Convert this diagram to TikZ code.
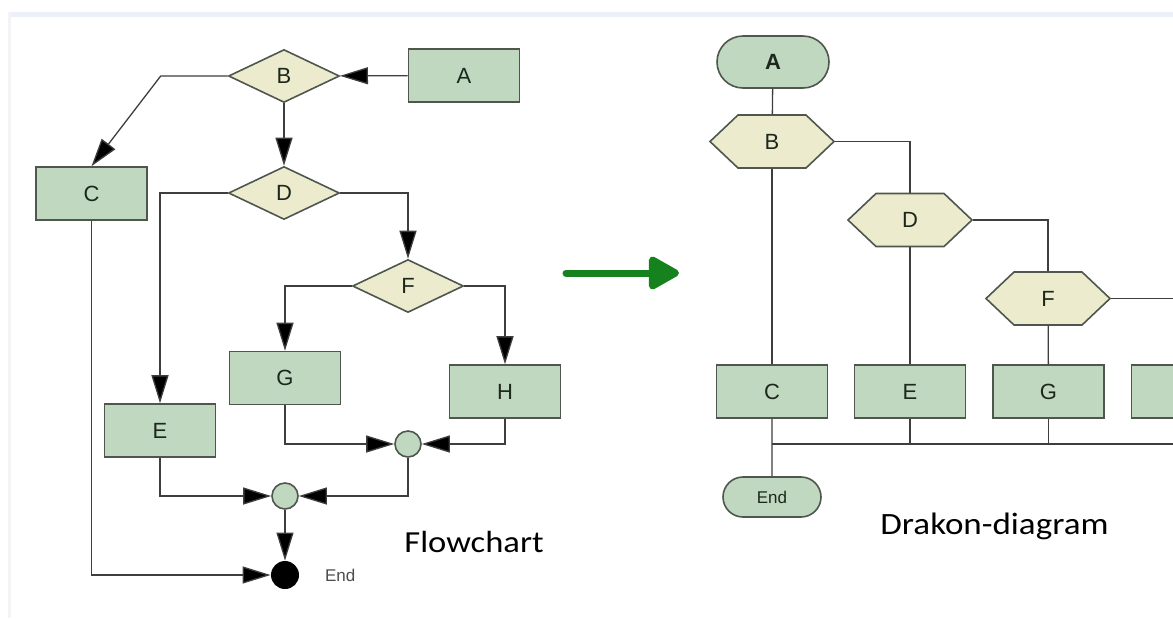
\documentclass[tikz,border=0pt]{standalone}
\usepackage{fontspec}
\setmainfont{Liberation Sans}
\newfontfamily\titlefont[FakeStretch=1.13]{Carlito}
\usetikzlibrary{arrows.meta,positioning,shapes.geometric,shapes.misc}
\definecolor{BoxGreen}{RGB}{192,216,192}
\definecolor{CondBeige}{RGB}{236,235,205}
\definecolor{LineGrey}{RGB}{62,62,62}
\definecolor{EdgeGrey}{RGB}{78,86,78}
\definecolor{TextDark}{RGB}{28,40,28}
\definecolor{ArrowGreen}{RGB}{22,130,30}
\definecolor{FrameBlue}{RGB}{236,241,249}

\tikzset{
  shape box/.style={draw=EdgeGrey,line width=0.8pt,inner sep=0pt,text=TextDark,
    font=\fontsize{11}{12}\selectfont},
  action/.style={shape box,rectangle,fill=BoxGreen,minimum width=55.5pt,minimum height=26.5pt},
  cond/.style={shape box,diamond,fill=CondBeige,minimum width=55.5pt,minimum height=26.5pt},
  hexcond/.style={shape box,draw=none,rectangle,minimum width=62pt,minimum height=26.5pt},
  hexline/.style={draw=EdgeGrey,fill=CondBeige,line width=0.8pt,line join=miter},
  term/.style={shape box,rounded rectangle,fill=BoxGreen,minimum width=56pt,minimum height=26pt},
  joint/.style={circle,draw=EdgeGrey,fill=BoxGreen,line width=0.8pt,minimum size=13pt,inner sep=0pt},
  stopdot/.style={circle,fill=black,minimum size=14pt,inner sep=0pt},
  wire/.style={draw=LineGrey,line width=0.65pt},
  arr/.style={wire,-{Triangle[length=14pt,width=8.5pt,fill=black]}},
  caption/.style={anchor=base west,inner sep=0pt,font=\titlefont\fontsize{15.3}{18}\selectfont}
}
% drakon question: hexagon outline, then the named node on top
\newcommand{\hexnode}[3]{%
  \filldraw[hexline] (#2) ++(-62,0) -- ++(28,-26.5) -- ++(68,0) -- ++(28,26.5)
    -- ++(-28,26.5) -- ++(-68,0) -- cycle;
  \node[hexcond] (#1) at (#2) {#3};}

\begin{document}
\begin{tikzpicture}[x=0.5pt,y=-0.5pt]
  \useasboundingbox (0,0) rectangle (1173,618);
  \fill[FrameBlue] (8,12) rectangle (1173,17);
  \fill[FrameBlue!80!gray!30] (8,12) rectangle (11,618);

  \node[action] (fA) at (464,75.5) {A};
  \node[cond] (fB) at (284,76) {B};
  \node[action] (fC) at (91.5,193.5) {C};
  \node[cond] (fD) at (284,193) {D};
  \node[cond] (fF) at (408,286) {F};
  \node[action] (fG) at (285,378) {G};
  \node[action] (fH) at (505,391.5) {H};
  \node[action] (fE) at (160,430.5) {E};
  \node[joint] (fJ1) at (408,444) {};
  \node[joint] (fJ2) at (285,496) {};
  \node[stopdot] (fEnd) at (285,575) {};
  \node[right,text=black!70,font=\fontsize{8.5}{10}\selectfont] (fEndText) at (318,575) {End};
  \node[caption] (fTitle) at (404,552) {Flowchart};

  \draw[arr] (fA) -- (fB);
  \draw[arr] (fB.west) -- ++(-67,0) -- (fC.north);
  \draw[arr] (fB) -- (fD);
  \draw[arr] (fD.west) -| (fE.north);
  \draw[arr] (fD.east) -| (fF.north);
  \draw[arr] (fF.west) -| (fG.north);
  \draw[arr] (fF.east) -| (fH.north);
  \draw[arr] (fG.south) |- (fJ1.west);
  \draw[arr] (fH.south) |- (fJ1.east);
  \draw[arr] (fE.south) |- (fJ2.west);
  \draw[arr] (fJ1.south) |- (fJ2.east);
  \draw[arr] (fJ2) -- (fEnd);
  \draw[arr] (fC.south) |- (fEnd.west);

  \draw[ArrowGreen,line width=3.5pt,line cap=round,-{Triangle[length=17pt,width=18pt,round]}]
    (566,273) -- (679,273);

  \node[term,font=\bfseries\fontsize{11}{12}\selectfont] (dA) at (773,62) {A};
  \hexnode{dB}{772,141.5}{B}
  \hexnode{dD}{910,220}{D}
  \hexnode{dF}{1048,298.5}{F}
  \node[action] (dC) at (772,391.5) {C};
  \node[action] (dE) at (910,391.5) {E};
  \node[action] (dG) at (1048.5,391.5) {G};
  \node[action] (dH) at (1187,391.5) {};
  \node[term,minimum width=49pt,minimum height=20pt,font=\fontsize{8.5}{10}\selectfont] (dEnd) at (772,497) {End};
  \node[caption,font=\titlefont\fontsize{15.5}{18}\selectfont] (dTitle) at (880,534) {Drakon-diagram};
  \coordinate (dFout) at (1190,298.5);
  \coordinate (dBus) at (772,444);
  \coordinate (dBusEnd) at (1190,444);

  \draw[wire] (dA) -- (dB);
  \draw[wire] (dB) -- (dC);
  \draw[wire] (dB.east) -| (dD.north);
  \draw[wire] (dD) -- (dE);
  \draw[wire] (dD.east) -| (dF.north);
  \draw[wire] (dF) -- (dG);
  \draw[wire] (dF.east) -- (dFout);
  \draw[wire] (dC) -- (dEnd);
  \draw[wire] (dBus) -- (dBusEnd);
  \draw[wire] (dE.south) -- (dE.south |- dBus);
  \draw[wire] (dG.south) -- (dG.south |- dBus);
  \draw[wire] (dH.south) -- (dH.south |- dBus);
\end{tikzpicture}
\end{document}
